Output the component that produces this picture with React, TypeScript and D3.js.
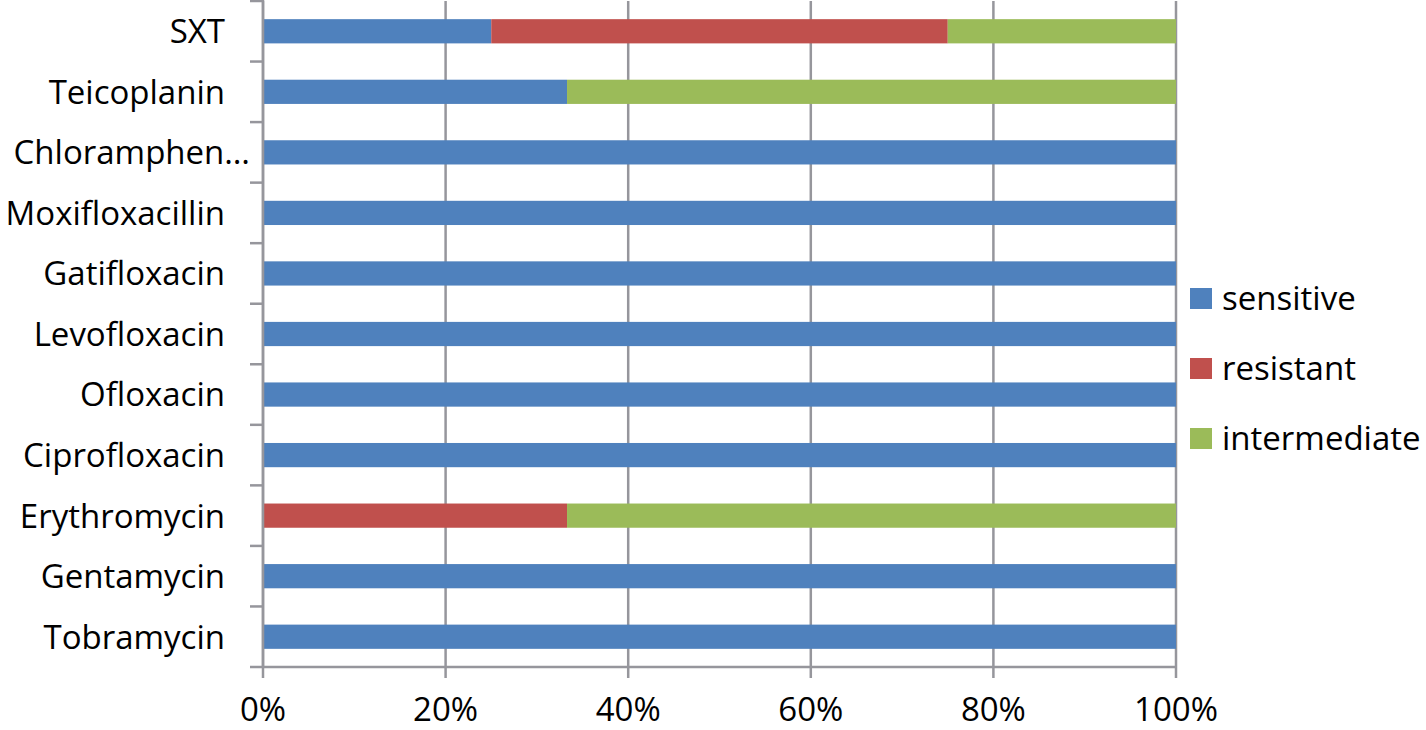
import React, { useMemo } from "react";
import * as d3 from "d3";

const width = 1426;
const height = 730;
const margin = { top: 1, right: 250, bottom: 63, left: 263 };

const drugs = [
  "SXT",
  "Teicoplanin",
  "Chloramphen…",
  "Moxifloxacillin",
  "Gatifloxacin",
  "Levofloxacin",
  "Ofloxacin",
  "Ciprofloxacin",
  "Erythromycin",
  "Gentamycin",
  "Tobramycin",
];

// percent of isolates per drug
const sensitive = [25, 33.3, 100, 100, 100, 100, 100, 100, 0, 100, 100];
const resistant = [50, 0, 0, 0, 0, 0, 0, 0, 33.3, 0, 0];
const intermediate = [25, 66.7, 0, 0, 0, 0, 0, 0, 66.7, 0, 0];

const seriesNames = ["sensitive", "resistant", "intermediate"];
const seriesColors = ["#4F81BD", "#C0504D", "#9BBB59"];

const xTicks = [0, 0.2, 0.4, 0.6, 0.8, 1];

const font = "'Open Sans', sans-serif";
const gridColor = "#96969C";

export default function App() {
  const rows = useMemo(
    () =>
      drugs.map((name, i) => ({
        name,
        sensitive: sensitive[i],
        resistant: resistant[i],
        intermediate: intermediate[i],
      })),
    []
  );

  const stacked = useMemo(
    () =>
      d3
        .stack<any>()
        .keys(seriesNames)
        .offset(d3.stackOffsetExpand)(rows),
    [rows]
  );

  const x = d3
    .scaleLinear()
    .domain([0, 1])
    .range([margin.left, 1176]);

  const y = d3
    .scaleBand()
    .domain(drugs)
    .range([margin.top, height - margin.bottom])
    .paddingInner(0.6)
    .paddingOuter(0.3);

  const bandEdges = d3.range(drugs.length + 1).map(
    i => margin.top + (i * (height - margin.bottom - margin.top)) / drugs.length
  );

  const axisY = height - margin.bottom;

  return (
    <svg
      width={width}
      height={height}
      style={{ position: "absolute", left: 0, top: 0, background: "#fff" }}
    >
      {/* vertical gridlines */}
      {xTicks.map(t => (
        <line
          key={"g" + t}
          x1={x(t)}
          x2={x(t)}
          y1={margin.top}
          y2={axisY + 11}
          stroke={gridColor}
          strokeWidth={2.5}
        />
      ))}

      {/* bars */}
      {stacked.map((s, si) => (
        <g key={s.key} fill={seriesColors[si]}>
          {s.map((d, i) =>
            d[1] - d[0] > 0 ? (
              <rect
                key={i}
                x={x(d[0])}
                y={y(drugs[i])}
                width={x(d[1]) - x(d[0])}
                height={y.bandwidth()}
              />
            ) : null
          )}
        </g>
      ))}

      {/* y axis */}
      <line
        x1={margin.left}
        x2={margin.left}
        y1={0}
        y2={axisY}
        stroke={gridColor}
        strokeWidth={2.5}
      />
      {bandEdges.map((e, i) => (
        <line
          key={"t" + i}
          x1={250}
          x2={margin.left}
          y1={e}
          y2={e}
          stroke={gridColor}
          strokeWidth={2.5}
        />
      ))}

      {/* x axis */}
      <line
        x1={margin.left}
        x2={x(1)}
        y1={axisY}
        y2={axisY}
        stroke={gridColor}
        strokeWidth={2.5}
      />

      {/* category labels */}
      {drugs.map(d => (
        <text
          key={d}
          x={d.endsWith("…") ? 250 : 225}
          y={y(d)! + y.bandwidth() / 2}
          dy="0.36em"
          textAnchor="end"
          fontFamily={font}
          fontSize={33}
          fill="#000"
        >
          {d}
        </text>
      ))}

      {/* x tick labels */}
      {xTicks.map(t => (
        <text
          key={"l" + t}
          x={x(t)}
          y={721}
          textAnchor="middle"
          fontFamily={font}
          fontSize={33}
          fill="#000"
        >
          {d3.format(".0%")(t)}
        </text>
      ))}

      {/* legend */}
      {seriesNames.map((n, i) => (
        <g key={n} transform={`translate(1190, ${288 + i * 70})`}>
          <rect width={22} height={21} fill={seriesColors[i]} />
          <text
            x={32}
            y={10.5}
            dy="0.36em"
            fontFamily={font}
            fontSize={33}
            fill="#000"
          >
            {n}
          </text>
        </g>
      ))}
    </svg>
  );
}
